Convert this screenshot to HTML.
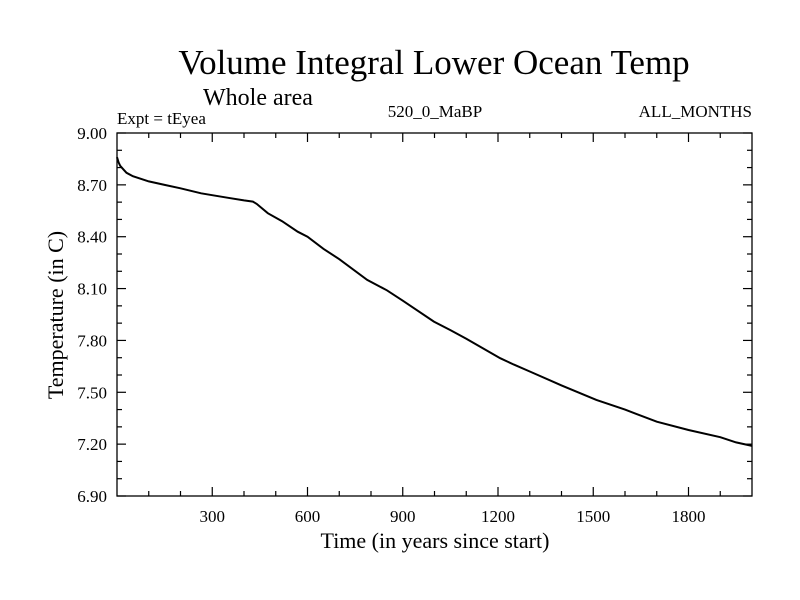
<!DOCTYPE html>
<html><head><meta charset="utf-8"><style>
body{margin:0;background:#fff}
svg{display:block;font-family:"Liberation Serif",serif}
</style></head><body>
<svg id="chart" width="800" height="600">
<rect width="800" height="600" fill="#fff"/>
<text x="434" y="74" font-size="35" text-anchor="middle">Volume Integral Lower Ocean Temp</text>
<text x="203" y="105" font-size="24">Whole area</text>
<text x="117" y="124" font-size="17">Expt = tEyea</text>
<text x="435" y="117" font-size="17" text-anchor="middle">520_0_MaBP</text>
<text x="752" y="117" font-size="17" text-anchor="end">ALL_MONTHS</text>
<text x="435" y="548" font-size="22" text-anchor="middle">Time (in years since start)</text>
<text transform="translate(63,315) rotate(-90)" font-size="22" text-anchor="middle">Temperature (in C)</text>
<g id="axes"></g>
<path id="series" fill="none" stroke="#000" stroke-width="2"/>
<rect x="117" y="133" width="635" height="363" fill="none" stroke="#000" stroke-width="1.3"/>
</svg>
<script>
const years=[0,5,10,20,30,50,100,150,200,265,300,350,400,428,440,475,520,569,600,650,700,788,850,900,998,1050,1100,1207,1250,1300,1400,1510,1600,1700,1800,1900,1950,2000];
const temps=[8.86,8.83,8.81,8.79,8.77,8.75,8.72,8.70,8.68,8.651,8.64,8.625,8.61,8.603,8.59,8.536,8.49,8.429,8.40,8.33,8.27,8.15,8.09,8.03,7.909,7.86,7.81,7.697,7.66,7.62,7.54,7.456,7.40,7.33,7.282,7.24,7.21,7.19];
const xTickLabels=[300,600,900,1200,1500,1800];
const yTickLabels=[6.9,7.2,7.5,7.8,8.1,8.4,8.7,9.0];
const X0=117,X1=752,Y0=496,Y1=133,xmin=0,xmax=2000,ymin=6.9,ymax=9.0;
const xs=v=>X0+(v-xmin)/(xmax-xmin)*(X1-X0);
const ys=v=>Y0-(v-ymin)/(ymax-ymin)*(Y0-Y1);
const NS="http://www.w3.org/2000/svg";
const axes=document.getElementById('axes');
function line(x1,y1,x2,y2,name){const l=document.createElementNS(NS,'line');l.setAttribute('x1',x1);l.setAttribute('y1',y1);l.setAttribute('x2',x2);l.setAttribute('y2',y2);l.setAttribute('stroke','#000');l.setAttribute('stroke-width','1.2');


axes.appendChild(l);}
function text(x,y,s,anchor,name){const t=document.createElementNS(NS,'text');t.setAttribute('x',x);t.setAttribute('y',y);t.setAttribute('font-size','17');t.setAttribute('text-anchor',anchor);t.textContent=s;


axes.appendChild(t);}
for(let v=100;v<xmax;v+=100){const x=xs(v);const major=v%300===0;const L=major?9:5;line(x,Y0,x,Y0-L,'x-tick');line(x,Y1,x,Y1+L,'x-tick-top');}
xTickLabels.forEach(v=>text(xs(v),522,String(v),'middle','x-tick-label'));
for(let i=0;i<=21;i++){const v=ymin+i*0.1;const y=ys(v);const major=i%3===0;const L=major?9:5;line(X0,y,X0+L,y,'y-tick');line(X1,y,X1-L,y,'y-tick-right');}
yTickLabels.forEach(v=>text(107,ys(v)+6,v.toFixed(2),'end','y-tick-label'));
document.getElementById('series').setAttribute('d',years.map((y,i)=>(i?'L':'M')+xs(y).toFixed(1)+','+ys(temps[i]).toFixed(1)).join(''));
</script>
</body></html>
